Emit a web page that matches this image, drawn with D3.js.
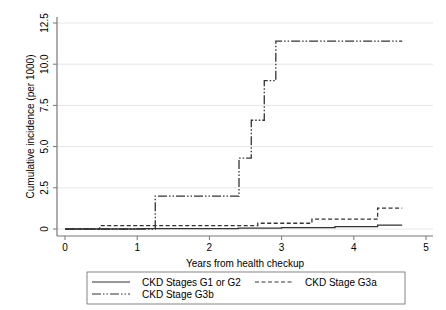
<!DOCTYPE html>
<html>
<head>
<meta charset="utf-8">
<script src="https://cdn.jsdelivr.net/npm/d3@7"></script>
<style>
  body { margin: 0; background: #fff; }
  svg { display: block; font-family: "Liberation Sans", Arial, sans-serif; }
</style>
</head>
<body>
<div id="chart"></div>
<script>
// step points [years, cumulative incidence per 1000]
const g12 = [[0, 0], [1.0, 0.02], [2.4, 0.05], [3.0, 0.08], [3.74, 0.14], [4.33, 0.24], [4.67, 0.24]];
const g3a = [[0, 0], [0.48, 0.2], [2.67, 0.35], [3.42, 0.6], [4.33, 1.27], [4.67, 1.27]];
const g3b = [[0, 0], [1.25, 2.0], [2.41, 4.3], [2.58, 6.6], [2.76, 9.0], [2.92, 11.4], [4.67, 11.4]];

const xTicks = [0, 1, 2, 3, 4, 5];
const yTicks = [0, 2.5, 5, 7.5, 10, 12.5];

const W = 446, H = 310;
const lineColor = "#333";
const axisColor = "#777";

const svg = d3.select("#chart").append("svg")
    .attr("width", W).attr("height", H);

// scales
var x = d3.scaleLinear().domain([0, 5]).range([65, 426]);
var y = d3.scaleLinear().domain([0, 12.5]).range([229, 23]);

// plot region edges
const plot = { left: 57, right: 433, top: 17, bottom: 236 };

// grid
svg.append("g").selectAll("line")
    .data(yTicks).enter().append("line")
    .attr("x1", plot.left).attr("x2", plot.right)
    .attr("y1", d => y(d)).attr("y2", d => y(d))
    .attr("stroke", "#e6e6e6").attr("stroke-width", 1);

// y axis
svg.append("line")
    .attr("x1", plot.left).attr("x2", plot.left).attr("y1", plot.top).attr("y2", plot.bottom)
    .attr("stroke", axisColor).attr("stroke-width", 1.2);
svg.append("g").selectAll("line")
    .data(yTicks).enter().append("line")
    .attr("x1", plot.left - 4).attr("x2", plot.left)
    .attr("y1", d => y(d)).attr("y2", d => y(d))
    .attr("stroke", axisColor);
svg.append("g").selectAll("text")
    .data(yTicks).enter().append("text")
    .attr("transform", d => "translate(" + 48 + "," + y(d) + ") rotate(-90)")
    .attr("text-anchor", "middle")
    .style("font-size", "10px")
    .text(d => d === 0 ? "0" : d3.format(".1f")(d));
svg.append("text")
    .attr("transform", "translate(34," + (plot.top + plot.bottom) / 2 + ") rotate(-90)")
    .attr("text-anchor", "middle")
    .style("font-size", "10px")
    .text("Cumulative incidence (per 1000)");

// x axis
svg.append("line")
    .attr("x1", plot.left).attr("x2", plot.right).attr("y1", plot.bottom).attr("y2", plot.bottom)
    .attr("stroke", axisColor).attr("stroke-width", 1.2);
svg.append("g").selectAll("line")
    .data(xTicks).enter().append("line")
    .attr("x1", d => x(d)).attr("x2", d => x(d))
    .attr("y1", plot.bottom).attr("y2", plot.bottom + 4)
    .attr("stroke", axisColor);
svg.append("g").selectAll("text")
    .data(xTicks).enter().append("text")
    .attr("x", d => x(d)).attr("y", 251)
    .attr("text-anchor", "middle")
    .style("font-size", "10px")
    .text(d => d);
svg.append("text")
    .attr("x", (plot.left + plot.right) / 2).attr("y", 267)
    .attr("text-anchor", "middle")
    .style("font-size", "10px")
    .text("Years from health checkup");

// step lines
var line = d3.line()
    .x(d => x(d[0]))
    .y(d => y(d[1]))
    .curve(d3.curveStepAfter);

const series = [
    { data: g12, dash: null, name: "CKD Stages G1 or G2" },
    { data: g3a, dash: "4,2.5", name: "CKD Stage G3a" },
    { data: g3b, dash: "9,2,1.5,2,1.5,2", name: "CKD Stage G3b" }
];

series.forEach(function (s) {
    svg.append("path")
        .datum(s.data)
        .attr("fill", "none")
        .attr("stroke", lineColor)
        .attr("stroke-width", 1.3)
        .attr("stroke-dasharray", s.dash)
        .attr("d", line);
});

// legend
const lg = svg.append("g");
lg.append("rect")
    .attr("x", 87).attr("y", 272).attr("width", 318).attr("height", 32)
    .attr("fill", "#fff").attr("stroke", "#666").attr("stroke-width", 0.8);

const legendPos = [
    { lx: 92, ly: 282 },
    { lx: 255, ly: 282 },
    { lx: 92, ly: 294 }
];
series.forEach(function (s, i) {
    const p = legendPos[i];
    lg.append("line")
        .attr("x1", p.lx).attr("x2", p.lx + 38)
        .attr("y1", p.ly).attr("y2", p.ly)
        .attr("stroke", lineColor).attr("stroke-width", 1.2)
        .attr("stroke-dasharray", s.dash);
    lg.append("text")
        .attr("x", p.lx + 50).attr("y", p.ly + 3.5)
        .style("font-size", "10px")
        .text(s.name);
});
</script>
</body>
</html>
